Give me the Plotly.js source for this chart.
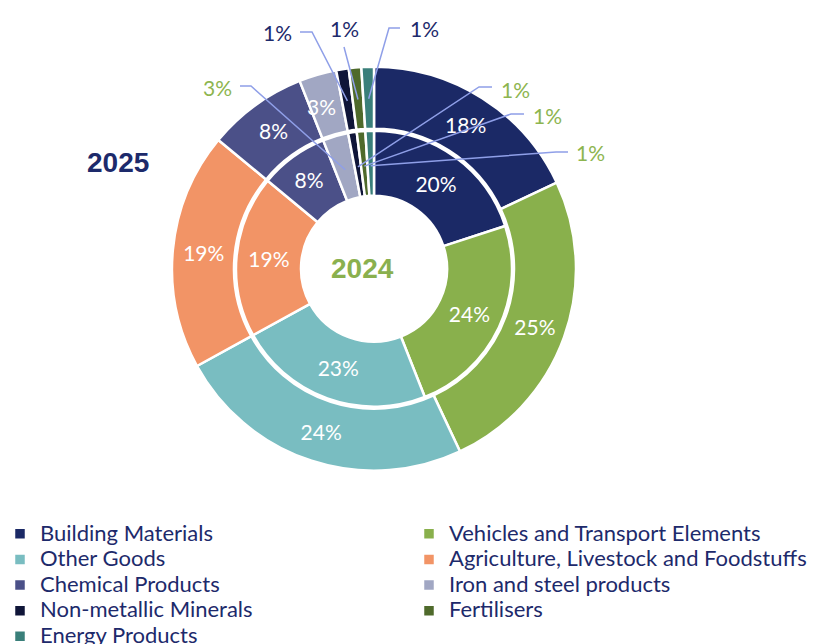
<!DOCTYPE html>
<html>
<head>
<meta charset="utf-8">
<script src="https://cdn.plot.ly/plotly-3.0.1.min.js"></script>
<style>html,body{margin:0;padding:0;background:#fff;}#chart{width:819px;height:644px;}</style>
</head>
<body>
<div id="chart"></div>
<script>
const categories = ["Building Materials", "Vehicles and Transport Elements", "Other Goods",
  "Agriculture, Livestock and Foodstuffs", "Chemical Products", "Iron and steel products",
  "Non-metallic Minerals", "Fertilisers", "Energy Products"];
const values2025 = [18, 25, 24, 19, 8, 3, 1, 1, 1];
const values2024 = [20, 24, 23, 19, 8, 3, 1, 1, 1];
const colors = ["#1B2966", "#89B04C", "#79BDC1", "#F29466", "#4B5088", "#A1A7C3", "#0F1538", "#4F6A2B", "#3A7F7A"];
const yearOuter = "2025";
const yearInner = "2024";

const W = 819, H = 644;
const cx = 374, cy = 268.7;
const rOuter = 202, rOuterHole = 140, rInner = 138, rInnerHole = 73;
const navy = "#1D2A6B", green = "#8DB54F", lineCol = "#8F9FE8";
const FONT = "Lato, 'Open Sans', sans-serif";

function dom(r) {
  return { x: [(cx - r) / W, (cx + r) / W], y: [1 - (cy + r) / H, 1 - (cy - r) / H] };
}
function px(x) { return x / W; }
function py(y) { return 1 - y / H; }
function total(vals) { return vals.reduce((a, b) => a + b, 0); }
function pct(vals, i) { return Math.round(vals[i] / total(vals) * 100) + "%"; }

function posArr(vals, hideIdx) {
  return vals.map((v, i) => hideIdx.includes(i) ? "none" : "inside");
}
// legend labels: larger glyphs with the compact row spacing of the legend font
const legendLabels = categories.map(c => '<span style="font-size:22px">' + c + '</span>');

const outer = {
  type: "pie", labels: legendLabels, values: values2025, name: yearOuter,
  sort: false, direction: "clockwise", rotation: 0,
  domain: dom(rOuter), hole: rOuterHole / rOuter,
  marker: { colors: colors, line: { color: "#ffffff", width: 2.5 } },
  texttemplate: "%{percent:.0%}", textposition: posArr(values2025, [5, 6, 7, 8]),
  insidetextorientation: "horizontal",
  insidetextfont: { color: "#ffffff", size: 21, family: FONT },
  hoverinfo: "percent", showlegend: true
};
const inner = {
  type: "pie", labels: legendLabels, values: values2024, name: yearInner,
  sort: false, direction: "clockwise", rotation: 0,
  domain: dom(rInner), hole: rInnerHole / rInner,
  marker: { colors: colors, line: { color: "#ffffff", width: 2.5 } },
  texttemplate: "%{percent:.0%}", textposition: posArr(values2024, [5, 6, 7, 8]),
  insidetextorientation: "horizontal",
  insidetextfont: { color: "#ffffff", size: 21, family: FONT },
  hoverinfo: "percent", showlegend: true
};

// point at the middle angle of a slice, computed from the data
function midPoint(vals, idx, r) {
  let cum = 0;
  for (let i = 0; i < idx; i++) cum += vals[i];
  const mid = (cum + vals[idx] / 2) / total(vals) * 2 * Math.PI;
  return [cx + r * Math.sin(mid), cy - r * Math.cos(mid)];
}

// callouts: [values, index, tip radius, label pos, elbow points, colour]
const callouts = [
  [values2025, 6, 170, [277, 33], [[300, 32], [312, 32]], navy],
  [values2025, 7, 170, [344, 29], [[344, 47]], navy],
  [values2025, 8, 170, [424, 29], [[400, 28], [389, 28]], navy],
  [values2024, 5, 103, [217, 87], [[240, 86], [251, 86]], green],
  [values2024, 6, 103, [515, 89], [[492, 87], [479, 87]], green],
  [values2024, 7, 103, [547, 115], [[524, 114], [511, 114]], green],
  [values2024, 8, 103, [590, 153], [[568, 152], [556, 152]], green]
];

const annotations = [];
const shapes = [];
callouts.forEach(c => {
  const [vals, idx, r, lab, elbow, col] = c;
  const t = midPoint(vals, idx, r);
  const pts = elbow.concat([t]);
  const path = pts.map((p, i) => (i === 0 ? "M" : "L") + px(p[0]).toFixed(5) + "," + py(p[1]).toFixed(5)).join(" ");
  shapes.push({ type: "path", xref: "paper", yref: "paper", path: path, line: { color: lineCol, width: 1.5 } });
  annotations.push({
    xref: "paper", yref: "paper", x: px(lab[0]), y: py(lab[1]), showarrow: false,
    text: pct(vals, idx), font: { color: col, size: 21, family: FONT },
    xanchor: "center", yanchor: "middle"
  });
});

// label inside the thin iron & steel slice of the outer ring
const ironMid = midPoint(values2025, 5, (rOuter + rOuterHole) / 2);
annotations.push({
  xref: "paper", yref: "paper", x: px(ironMid[0] - 5), y: py(ironMid[1] + 2), showarrow: false,
  text: pct(values2025, 5), font: { color: "#ffffff", size: 21, family: FONT },
  xanchor: "center", yanchor: "middle"
});

annotations.push({
  xref: "paper", yref: "paper", x: px(118), y: py(163), showarrow: false, text: "<b>" + yearOuter + "</b>",
  font: { color: navy, size: 28, family: "'Liberation Sans', Arial, sans-serif" }, xanchor: "center", yanchor: "middle"
});
annotations.push({
  xref: "paper", yref: "paper", x: px(362), y: py(268), showarrow: false, text: "<b>" + yearInner + "</b>",
  font: { color: "#8AB04E", size: 28, family: "'Liberation Sans', Arial, sans-serif" }, xanchor: "center", yanchor: "middle"
});

const layout = {
  width: W, height: H,
  margin: { l: 0, r: 0, t: 0, b: 0, autoexpand: false },
  paper_bgcolor: "#ffffff", plot_bgcolor: "#ffffff",
  showlegend: true,
  legend: {
    orientation: "h", x: 0, xanchor: "left", y: py(516), yanchor: "top",
    entrywidth: 364, entrywidthmode: "pixels", traceorder: "normal",
    font: { color: navy, size: 17.4, family: FONT }, itemwidth: 30, tracegroupgap: 0
  },
  annotations: annotations,
  shapes: shapes
};

Plotly.newPlot("chart", [outer, inner], layout, { displayModeBar: false, responsive: false });
</script>
</body>
</html>
